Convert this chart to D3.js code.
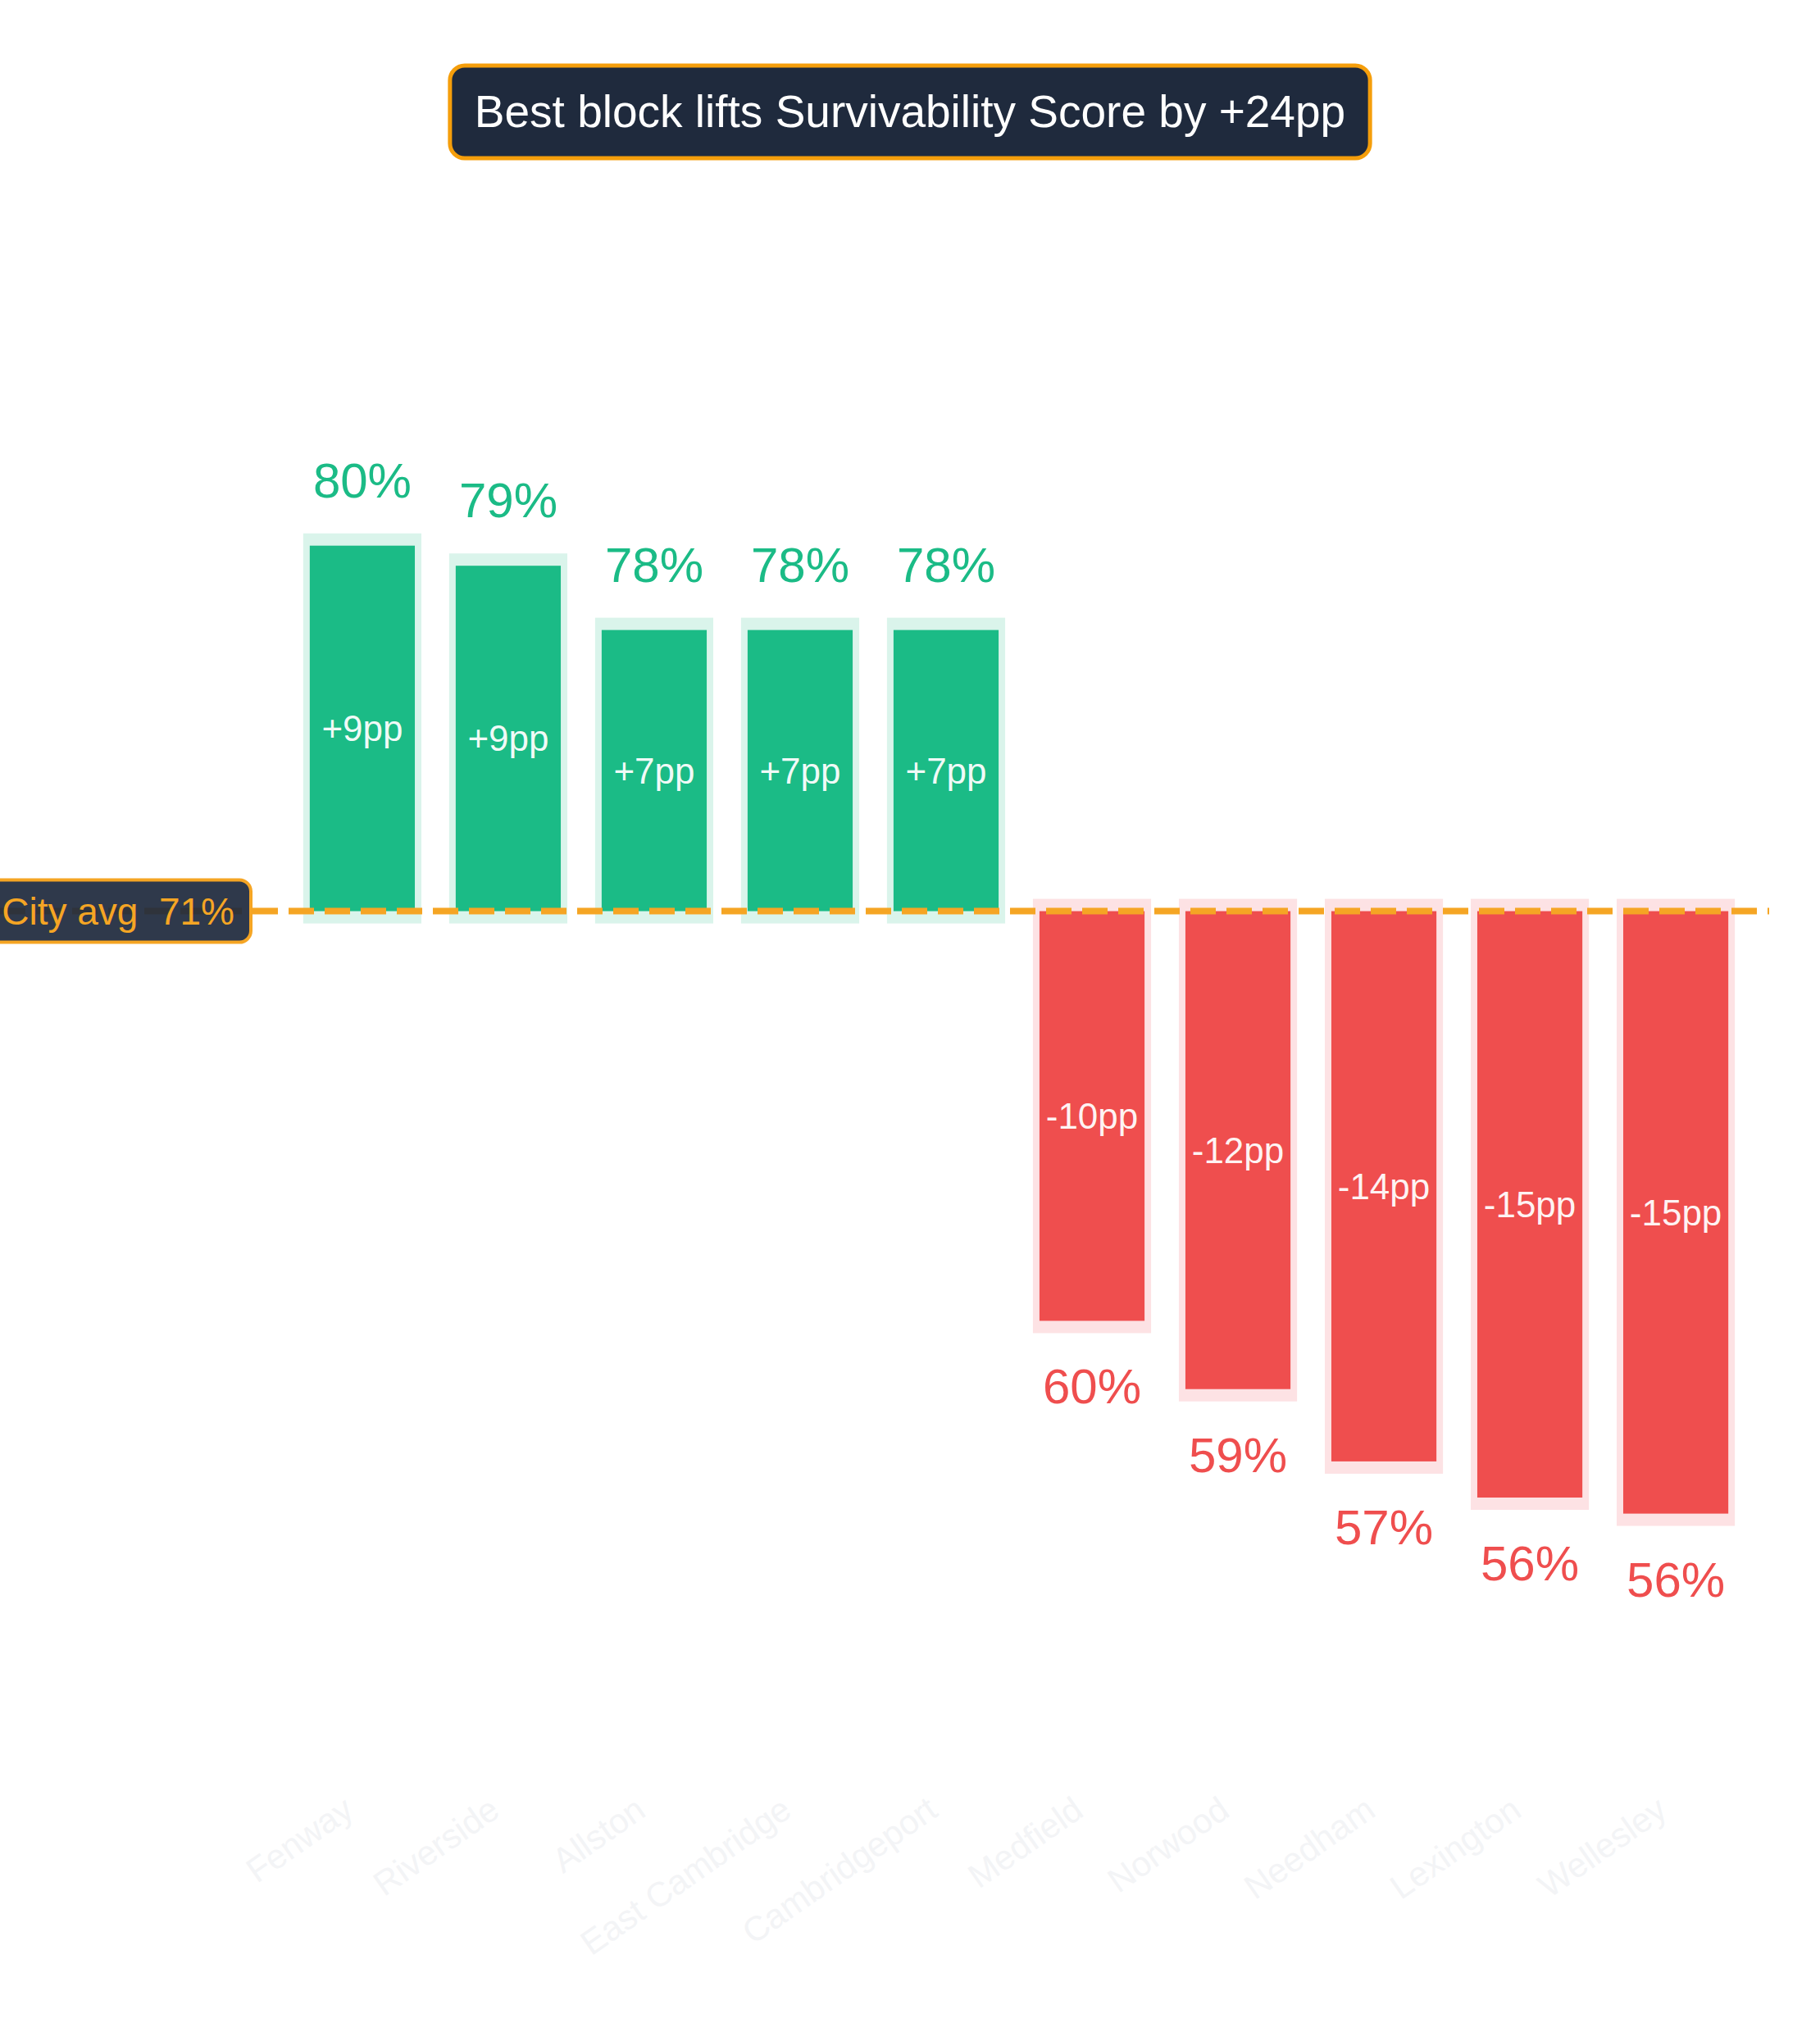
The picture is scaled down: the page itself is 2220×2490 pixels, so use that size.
<!DOCTYPE html>
<html>
<head>
<meta charset="utf-8">
<script src="https://cdn.jsdelivr.net/npm/d3@7"></script>
<style>
  body { margin: 0; background: #fff; }
  svg { display: block; }
</style>
</head>
<body>
<div id="viz-container"></div>
<script>
let width = 2220;
let height = 2490;

// data
let neighborhoods = ['Fenway', 'Riverside', 'Allston', 'East Cambridge', 'Cambridgeport',
  'Medfield', 'Norwood', 'Needham', 'Lexington', 'Wellesley'];
let scores = [79.7, 79.2, 77.6, 77.6, 77.6, 60.4, 58.7, 56.9, 56.0, 55.6];
let cityAvg = 70.6;
let yDomain = [50, 85];

let green = '#1bbb86';
let red = '#ef4e4e';
let orange = '#f5a524';
let navy = '#1f2a3d';
let font = "'Liberation Sans', Arial, Helvetica, sans-serif";

let data = neighborhoods.map((d, i) => ({name: d, value: scores[i], delta: scores[i] - cityAvg}));

let viz = d3.select('#viz-container')
  .append('svg')
  .attr('width', width)
  .attr('height', height);

let x = d3.scaleBand()
  .domain(neighborhoods)
  .range([328, 2158])
  .padding(0.28);

let y = d3.scaleLinear()
  .domain(yDomain)
  .range([2121, 406]);

let haloX = 8, haloY = 15;

// halos behind bars
viz.selectAll('.halo').data(data).enter()
  .append('rect')
  .attr('class', 'halo')
  .attr('x', d => x(d.name) - haloX)
  .attr('width', x.bandwidth() + haloX * 2)
  .attr('y', d => Math.min(y(d.value), y(cityAvg)) - haloY)
  .attr('height', d => Math.abs(y(d.value) - y(cityAvg)) + haloY * 2)
  .attr('fill', d => d.delta >= 0 ? '#daf4eb' : '#fde2e4');

viz.selectAll('.bar').data(data).enter()
  .append('rect')
  .attr('class', 'bar')
  .attr('x', d => x(d.name))
  .attr('width', x.bandwidth())
  .attr('y', d => Math.min(y(d.value), y(cityAvg)))
  .attr('height', d => Math.abs(y(d.value) - y(cityAvg)))
  .attr('fill', d => d.delta >= 0 ? green : red);

// delta inside bars
viz.selectAll('.delta').data(data).enter()
  .append('text')
  .attr('class', 'delta')
  .attr('x', d => x(d.name) + x.bandwidth() / 2)
  .attr('y', d => (y(d.value) + y(cityAvg)) / 2)
  .attr('dy', '0.35em')
  .attr('text-anchor', 'middle')
  .attr('font-family', font)
  .attr('font-size', 44)
  .attr('fill', '#ffffff')
  .attr('fill-opacity', 0.95)
  .text(d => (d.delta >= 0 ? '+' : '-') + Math.abs(Math.round(d.delta)) + 'pp');

// score labels
viz.selectAll('.score').data(data).enter()
  .append('text')
  .attr('class', 'score')
  .attr('x', d => x(d.name) + x.bandwidth() / 2)
  .attr('y', d => d.delta >= 0 ? y(d.value) - 80 : y(d.value) + 80)
  .attr('dy', '0.35em')
  .attr('text-anchor', 'middle')
  .attr('font-family', font)
  .attr('font-size', 60)
  .attr('fill', d => d.delta >= 0 ? green : red)
  .text(d => Math.round(d.value) + '%');

// average line
viz.append('line')
  .attr('x1', 0)
  .attr('x2', x.range()[1])
  .attr('y1', y(cityAvg))
  .attr('y2', y(cityAvg))
  .attr('stroke', orange)
  .attr('stroke-width', 8)
  .attr('stroke-dasharray', '31,13');

// avg label
let avgG = viz.append('g');
avgG.append('rect')
  .attr('x', -30)
  .attr('y', y(cityAvg) - 38)
  .attr('width', 336)
  .attr('height', 76)
  .attr('rx', 14)
  .attr('fill', navy)
  .attr('fill-opacity', 0.93)
  .attr('stroke', orange)
  .attr('stroke-width', 4);
avgG.append('text')
  .attr('x', 286)
  .attr('y', y(cityAvg))
  .attr('dy', '0.35em')
  .attr('text-anchor', 'end')
  .attr('font-family', font)
  .attr('font-size', 46)
  .attr('fill', orange)
  .style('white-space', 'pre')
  .text('City avg  ' + Math.round(cityAvg) + '%');

// x labels, barely visible
viz.selectAll('.xlabel').data(neighborhoods).enter()
  .append('text')
  .attr('class', 'xlabel')
  .attr('transform', d => 'translate(' + (x(d) + x.bandwidth() / 2 - 8) + ',2214) rotate(-35)')
  .attr('text-anchor', 'end')
  .attr('font-family', font)
  .attr('font-size', 42)
  .attr('fill', '#f3f4f6')
  .text(d => d);

// title badge
let lift = Math.round(d3.max(scores) - d3.min(scores));
let titleG = viz.append('g');
let titleBox = titleG.append('rect');
let title = titleG.append('text')
  .attr('x', width / 2)
  .attr('y', 136)
  .attr('dy', '0.35em')
  .attr('text-anchor', 'middle')
  .attr('font-family', font)
  .attr('font-size', 55)
  .attr('fill', '#ffffff')
  .text('Best block lifts Survivability Score by +' + lift + 'pp');
let tw = title.node().getComputedTextLength();
titleBox
  .attr('x', width / 2 - tw / 2 - 30)
  .attr('y', 80)
  .attr('width', tw + 60)
  .attr('height', 113)
  .attr('rx', 18)
  .attr('fill', navy)
  .attr('stroke', '#f59e0b')
  .attr('stroke-width', 5);
</script>
</body>
</html>
